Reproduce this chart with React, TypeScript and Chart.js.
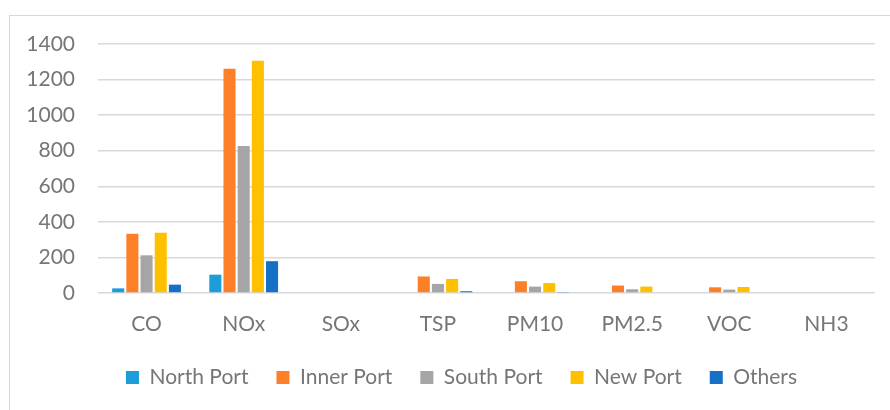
import React, { useEffect, useRef } from "react";
import { Chart, registerables } from "chart.js";

Chart.register(...registerables);

const categories = ["CO", "NOx", "SOx", "TSP", "PM10", "PM2.5", "VOC", "NH3"];
const seriesNames = ["North Port", "Inner Port", "South Port", "New Port", "Others"];
const northPort = [26, 103, 0, 0, 0, 0, 0, 0];
const innerPort = [333, 1261, 0, 93, 66, 42, 32, 0];
const southPort = [212, 826, 0, 51, 36, 21, 19, 0];
const newPort = [339, 1306, 0, 79, 56, 36, 34, 0];
const others = [47, 179, 0, 10, 3, 0, 0, 0];
const yTicks = [0, 200, 400, 600, 800, 1000, 1200, 1400];

const colors = ["#1c9cd8", "#fd7f27", "#a5a5a5", "#ffc000", "#1670c6"];
const FONT = "Lato, 'Open Sans', sans-serif";
const TEXT = "#767676";

const legendShift = {
  id: "legendShift",
  afterLayout(chart: any) {
    if (chart.legend) {
      chart.legend.left = 48;
    }
  },
};

export default function App() {
  const ref = useRef<HTMLCanvasElement | null>(null);
  useEffect(() => {
    document.body.style.margin = "0";
    document.body.style.overflow = "hidden";
    const canvas = ref.current!;
    const values = [northPort, innerPort, southPort, newPort, others];
    const chart = new Chart(canvas, {
      type: "bar",
      data: {
        labels: categories,
        datasets: seriesNames.map((name, i) => ({
          label: name,
          data: values[i],
          backgroundColor: colors[i],
          borderWidth: 0,
          inflateAmount: 0,
          categoryPercentage: 0.73,
          barPercentage: 0.85,
        })),
      },
      plugins: [legendShift],
      options: {
        responsive: false,
        animation: false,
        layout: { padding: { left: 0, right: 15, top: 44, bottom: 12 } },
        plugins: {
          tooltip: { enabled: false },
          legend: {
            position: "bottom",
            labels: {
              font: { family: FONT, size: 21 },
              color: TEXT,
              boxWidth: 13,
              boxHeight: 13,
              padding: 28,
            },
          },
        },
        scales: {
          x: {
            grid: { display: false },
            border: { display: false },
            ticks: {
              font: { family: FONT, size: 21 },
              color: TEXT,
              padding: 11,
              maxRotation: 0,
              autoSkip: false,
            },
            afterFit: (s: any) => {
              s.height = 46;
            },
          },
          y: {
            min: 0,
            max: 1400,
            afterBuildTicks: (s: any) => {
              s.ticks = yTicks.map((v) => ({ value: v }));
            },
            grid: { color: "#d9d9d9", lineWidth: 1.5, drawTicks: false },
            border: { display: false },
            ticks: {
              font: { family: FONT, size: 21 },
              color: TEXT,
              padding: 23,
              callback: (v: any) => String(v),
            },
            afterFit: (s: any) => {
              s.width = 98;
            },
          },
        },
      },
    });
    return () => chart.destroy();
  }, []);

  return (
    <div
      style={{
        position: "fixed",
        left: 0,
        top: 0,
        width: 890,
        height: 410,
        overflow: "hidden",
        background: "#fff",
      }}
    >
      <div
        style={{
          position: "absolute",
          left: 9,
          top: 15,
          width: 920,
          height: 440,
          border: "1.5px solid #d9d9d9",
        }}
      />
      <canvas
        ref={ref}
        width={890}
        height={410}
        style={{ position: "absolute", left: 0, top: 0, width: 890, height: 410 }}
      />
    </div>
  );
}
